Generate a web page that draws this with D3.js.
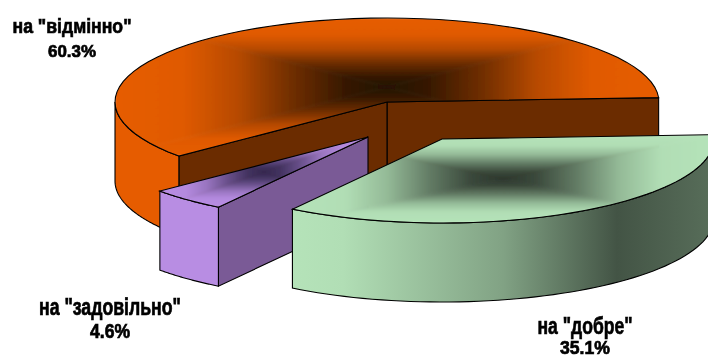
<!DOCTYPE html>
<html>
<head>
<meta charset="utf-8">
<script src="https://cdn.jsdelivr.net/npm/d3@7"></script>
<style>
    html, body { margin: 0; background: #fff; }
    svg { display: block; }
    text { font-family: "Liberation Sans", Arial, sans-serif; font-weight: bold; fill: #000; stroke: #000; stroke-width: 0.7px; }
</style>
</head>
<body>
<div id="chart"></div>
<script>
// Exploded 3D pie, drawn back to front
const categories = ['на "добре"', 'на "задовільно"', 'на "відмінно"'];
const values = [35.1, 4.6, 60.3];
const valueLabels = ["35.1%", "4.6%", "60.3%"];

const lightColors = ["#b5e3b9", "#b88de3", "#e65c00"];
const darkColors = ["#2c372d", "#352850", "#221000"];
const wallColors = ["#46584a", "#7a5a96", "#6b2c00"];

const WIDTH = 708;
const HEIGHT = 358;
const RX = 272;
const RY = 84;
const DEPTH = 79;
const START = -3 * Math.PI / 180;

// pie centre plus how far each slice is pulled out of it
const CENTRE = { x: 387, y: 102 };
const EXPLODE = [{ dx: 55, dy: 37 }, { dx: -19, dy: 35 }, { dx: 0, dy: 0 }];

// label boxes: centre x, baselines, font sizes, line widths
const LABEL_LAYOUT = [
    { x: 585, y1: 334, y2: 354, size1: 24, size2: 19, w1: 95, w2: 50 },
    { x: 110, y1: 315, y2: 338, size1: 23, size2: 20, w1: 142, w2: 40 },
    { x: 72, y1: 33, y2: 57, size1: 21, size2: 17, w1: 119, w2: 48 },
];

const svg = d3.select("#chart").append("svg")
    .attr("width", WIDTH)
    .attr("height", HEIGHT);
const defs = svg.append("defs");

defs.append("filter").attr("id", "soft").append("feGaussianBlur").attr("stdDeviation", 1.2);
defs.append("filter").attr("id", "soft-text").append("feGaussianBlur").attr("stdDeviation", 0.35);

const arcs = d3.pie().value((d) => d).sort(null)
    .startAngle(START).endAngle(START + 2 * Math.PI)(values);

const order = [2, 1, 0];

function makeLinear(id, x1, y1, x2, y2, stops) {
    const grad = defs.append("linearGradient")
        .attr("id", id)
        .attr("gradientUnits", "userSpaceOnUse")
        .attr("x1", x1).attr("y1", y1)
        .attr("x2", x2).attr("y2", y2);
    stops.forEach(([o, c]) => grad.append("stop").attr("offset", o).attr("stop-color", c));
}

order.forEach((i) => {
    const arc = arcs[i];
    const cx = CENTRE.x + EXPLODE[i].dx;
    const cy = CENTRE.y + EXPLODE[i].dy;
    const px = (t) => cx + RX * Math.cos(t);
    const py = (t) => cy + RY * Math.sin(t);

    const g = svg.append("g");
    const line = d3.line().x((t) => px(t)).y((t) => py(t));
    const lineLow = d3.line().x((t) => px(t)).y((t) => py(t) + DEPTH);
    const steps = (a, b) => d3.range(0, 61).map((k) => a + (b - a) * k / 60);

    // bounding box of the top face, the shading runs from its middle
    const sampled = steps(arc.startAngle, arc.endAngle);
    const xs = sampled.map(px).concat(cx);
    const ys = sampled.map(py).concat(cy);
    const [x0, x1] = d3.extent(xs);
    const [y0, y1] = d3.extent(ys);
    const mx = (x0 + x1) / 2;
    const my = (y0 + y1) / 2;

    const mix = d3.interpolateRgb(darkColors[i], lightColors[i]);
    const faceStops = [[0, mix(0)], [0.15, mix(0.1)], [0.35, mix(0.4)], [0.55, mix(0.76)], [0.75, mix(0.97)], [1, mix(1)]];

    // flat walls facing the viewer
    const wall = (t) => {
        g.append("path")
            .attr("d", `M${cx},${cy}L${px(t)},${py(t)}L${px(t)},${py(t) + DEPTH}L${cx},${cy + DEPTH}Z`)
            .attr("fill", wallColors[i])
            .attr("stroke", "#000")
            .attr("stroke-width", 1.1);
    };
    if (i === 2) {
        wall(arc.endAngle);
        wall(arc.startAngle);
    } else if (i === 1) {
        wall(arc.startAngle);
    }

    // outer rim, only the front half of the ellipse shows
    const sideFrom = Math.max(arc.startAngle, 0);
    const sideTo = Math.min(arc.endAngle, Math.PI);
    if (sideTo > sideFrom) {
        const sideId = `side-${i}`;
        const sideMix = i === 0
            ? [[0, mix(1)], [0.12, mix(0.97)], [0.5, mix(0.62)], [0.77, mix(0.17)], [1, mix(0.32)]]
            : [[0, mix(1)], [1, mix(1)]];
        makeLinear(sideId, x0, 0, x1, 0, sideMix);
        const topPart = steps(sideFrom, sideTo);
        const d = line(topPart) + "L" + lineLow(topPart.slice().reverse()).slice(1) + "Z";
        g.append("path")
            .attr("d", d)
            .attr("fill", `url(#${sideId})`)
            .attr("stroke", "#000")
            .attr("stroke-width", 1.1);
    }

    // top face: four triangles with a gradient towards each side of the box,
    // blurred so the joins between them don't show
    const topD = `${line(sampled)}L${cx},${cy}Z`;
    const clipId = `clip-${i}`;
    defs.append("clipPath").attr("id", clipId).append("path").attr("d", topD);
    const shade = g.append("g").attr("clip-path", `url(#${clipId})`)
        .append("g").attr("filter", "url(#soft)");
    const corners = [[x0, y0], [x1, y0], [x1, y1], [x0, y1]];
    const targets = [[mx, y0], [x1, my], [mx, y1], [x0, my]];
    corners.forEach((c, k) => {
        const next = corners[(k + 1) % 4];
        const id = `top-${i}-${k}`;
        makeLinear(id, mx, my, targets[k][0], targets[k][1], faceStops);
        shade.append("path")
            .attr("d", `M${mx},${my}L${c[0]},${c[1]}L${next[0]},${next[1]}Z`)
            .attr("fill", `url(#${id})`)
            .attr("stroke", `url(#${id})`)
            .attr("stroke-width", 0.6);
    });
    g.append("path")
        .attr("d", topD)
        .attr("fill", "none")
        .attr("stroke", "#000")
        .attr("stroke-width", 1.1);
});

// labels, squeezed to the condensed look of the original
const labels = svg.append("g").attr("filter", "url(#soft-text)");
LABEL_LAYOUT.forEach((l, i) => {
    [[categories[i], l.y1, l.w1, l.size1], [valueLabels[i], l.y2, l.w2, l.size2]].forEach(([s, y, w, size]) => {
        labels.append("text")
            .attr("x", l.x)
            .attr("y", y)
            .attr("text-anchor", "middle")
            .attr("font-size", size)
            .attr("textLength", w)
            .attr("lengthAdjust", "spacingAndGlyphs")
            .text(s);
    });
});
</script>
</body>
</html>
